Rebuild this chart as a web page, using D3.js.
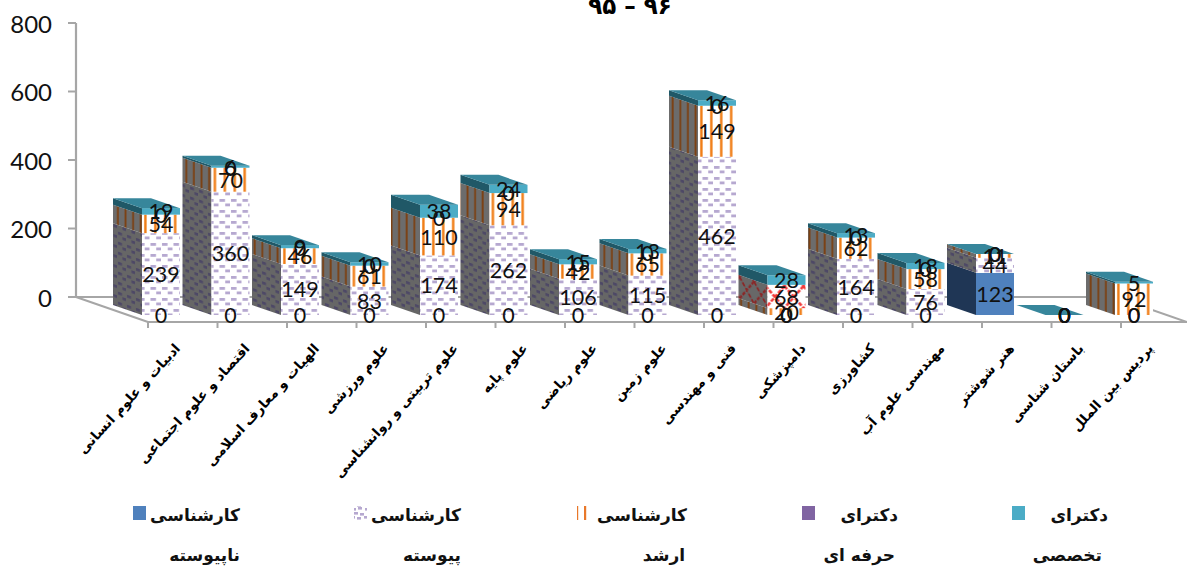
<!DOCTYPE html>
<html>
<head>
<meta charset="utf-8">
<script src="https://cdn.jsdelivr.net/npm/d3@7/dist/d3.min.js"></script>
<style>
html,body{margin:0;padding:0;background:#fff;overflow:hidden}
svg{display:block}
</style>
</head>
<body>
<svg id="chart" width="1187" height="568"></svg>
<script>
const titleText = "۹۵ – ۹۶";
const categories = ["ادبیات و علوم انسانی","اقتصاد و علوم اجتماعی","الهیات و معارف اسلامی","علوم ورزشی","علوم تربیتی و روانشناسی","علوم پایه","علوم ریاضی","علوم زمین","فنی و مهندسی","دامپزشکی","کشاورزی","مهندسی علوم آب","هنر شوشتر","باستان شناسی","پردیس بین الملل"];
const seriesKeys = ["napeyvasteh","peyvasteh","arshad","herfei","takhasosi"];
const napeyvasteh = [0,0,0,0,0,0,0,0,0,0,0,0,123,0,0];
const peyvasteh   = [239,360,149,83,174,262,106,115,462,0,164,76,44,0,0];
const arshad      = [54,70,46,61,110,94,42,65,149,20,62,58,11,0,92];
const herfei      = [0,0,0,0,0,0,0,0,0,68,0,0,0,0,null];
const takhasosi   = [19,6,9,10,38,24,15,13,16,28,13,18,0,0,5];
const yTicks = [0,200,400,600,800];
const legendLine1 = ["کارشناسی","کارشناسی","کارشناسی","دکترای","دکترای"];
const legendLine2 = ["ناپیوسته","پیوسته","ارشد","حرفه ای","تخصصی"];

const svg = d3.select("#chart");
const FRONT = {blue:"#4f81bd", teal:"#4bacc6", purple:"#8064a2"};
const defs = svg.append("defs");

function pat(id, w, h, bg, draw, tf){
  const p = defs.append("pattern").attr("id",id).attr("patternUnits","userSpaceOnUse")
    .attr("width",w).attr("height",h);
  if(tf) p.attr("patternTransform",tf);
  p.append("rect").attr("width",w).attr("height",h).attr("fill",bg);
  draw(p);
}
function bricks(p,c,rw,rh,w,h){
  [[1,1],[w/2+1,h/2]].forEach(([x,y])=>{
    p.append("rect").attr("x",x).attr("y",y).attr("width",rw).attr("height",rh).attr("fill",c);
  });
}
const skew = "skewY(19)";
pat("dotsFront",11.5,11,"#fff",p=>bricks(p,"#b6a8d0",5.5,2.8,11.5,11));
pat("dotsSide",9,10,"#666",p=>bricks(p,"#4d4866",4,2.8,9,10),skew);
pat("stripeFront",69.5/7,10,"#fff",p=>p.append("rect").attr("x",5.2).attr("width",2.4).attr("height",10).attr("fill","#f07c14"));
pat("stripeSide",7.6,10,"#6c6c6c",p=>p.append("rect").attr("x",3).attr("width",1.8).attr("height",10).attr("fill","#7c3f10"),skew);
function cross(p,c,w,h,sw){
  p.append("path").attr("d",`M0,0L${w},${h}M${w},0L0,${h}`).attr("stroke",c).attr("stroke-width",sw).attr("stroke-dasharray","4 1.5").attr("fill","none");
}
pat("crossFront",19,22,"#fff",p=>cross(p,"#f23b3b",19,22,2.6),"translate(5.5,0)");
pat("crossSide",14.5,22,"#686868",p=>cross(p,"#8a2626",14.5,22,2),skew);
pat("legDots",13,13,"#fff",p=>{[[1,1],[7,0],[3,5],[9,6],[0,9],[6,10]].forEach(([x,y])=>p.append("rect").attr("x",x).attr("y",y).attr("width",4).attr("height",2.6).attr("fill","#b6a8d0"));});
pat("legStripe",8,13,"#fff",p=>p.append("rect").attr("x",0).attr("width",2.2).attr("height",13).attr("fill","#e9782a"));

const seriesStyle = {
  napeyvasteh:{front:FRONT.blue, side:"#1f3655"},
  peyvasteh:{front:"url(#dotsFront)", side:"url(#dotsSide)"},
  arshad:{front:"url(#stripeFront)", side:"url(#stripeSide)"},
  herfei:{front:"url(#crossFront)", side:"url(#crossSide)"},
  takhasosi:{front:FRONT.teal, side:"#205867", top:"#37869b"}
};

// scales
const step = 69.5, barW = 38, left = 142;
const x = d3.scaleBand().domain(categories)
  .range([left-(step-barW)/2, left-(step-barW)/2+step*categories.length])
  .paddingInner((step-barW)/step).paddingOuter((step-barW)/step/2);
const baseY = 315;
const y = d3.scaleLinear().domain([0,800]).range([baseY, baseY-274]);
const depthX = -29, depthY = -10;

// axis geometry
const axisX = 76, backY = 297, floorY = 322, frontStart = 148;
const yWall = d3.scaleLinear().domain([0,800]).range([backY, backY-274]);
const axisG = svg.append("g");
const AX = "#a6a6a6";
const line = (x1,y1,x2,y2,w)=>axisG.append("line").attr("x1",x1).attr("y1",y1).attr("x2",x2).attr("y2",y2).attr("stroke",AX).attr("stroke-width",w||2);
line(axisX,yWall(800),axisX,backY,2.2);
line(frontStart,floorY,1187,floorY,2);
line(axisX,backY,1115,backY,2);
line(axisX,backY,frontStart,floorY,2);
line(1115,backY,1187,floorY,2);
yTicks.forEach(t=>{
  line(axisX-8,yWall(t),axisX,yWall(t),2);
  axisG.append("text").attr("x",52).attr("y",yWall(t)+9.5).attr("text-anchor","end")
    .attr("font-family","Lato").attr("font-size",24).attr("fill","#111").text(t);
});
categories.forEach(c=>{
  const tx = x(c)+6;
  line(tx,floorY,tx,floorY+6,2);
});

// stack
const rows = categories.map((c,i)=>({cat:c,napeyvasteh:napeyvasteh[i],peyvasteh:peyvasteh[i],arshad:arshad[i],herfei:herfei[i],takhasosi:takhasosi[i]}));
const stacked = d3.stack().keys(seriesKeys).value((r,k)=>r[k]||0)(rows);

const bars = svg.append("g");
rows.forEach((r,i)=>{
  const g = bars.append("g");
  const bx = x(r.cat), bw = x.bandwidth();
  stacked.forEach(s=>{
    const d = s[i], st = seriesStyle[s.key];
    const y0 = y(d[0]), y1 = y(d[1]);
    if(d[1]-d[0] <= 0) return;
    g.append("path").attr("fill",st.side)
      .attr("d",`M${bx},${y0}L${bx+depthX},${y0+depthY}L${bx+depthX},${y1+depthY}L${bx},${y1}Z`);
    g.append("rect").attr("x",bx).attr("y",y1).attr("width",bw).attr("height",y0-y1).attr("fill",st.front);
  });
  const total = d3.sum(seriesKeys,k=>r[k]||0);
  const ty = y(total);
  g.append("path").attr("fill",seriesStyle.takhasosi.top)
    .attr("d",`M${bx},${ty}L${bx+depthX},${ty+depthY}L${bx+depthX+bw},${ty+depthY}L${bx+bw},${ty}Z`);
});

// data labels
const labels = svg.append("g").attr("font-family","Lato").attr("font-size",21.5).attr("fill","#111").attr("text-anchor","middle");
stacked.forEach(s=>{
  s.forEach((d,i)=>{
    if(rows[i][s.key]===null) return;
    const cx = x(rows[i].cat)+x.bandwidth()/2;
    labels.append("text").attr("x",cx).attr("y",y((d[0]+d[1])/2)+8).text(d[1]-d[0]);
  });
});

// category labels
svg.append("g").selectAll("text").data(categories).join("text")
  .attr("transform",c=>`translate(${x(c)+x.bandwidth()+1},349) rotate(-47.5)`)
  .attr("text-anchor","end")
  .attr("font-family","DejaVu Sans").attr("font-weight","bold").attr("font-size",13.5)
  .attr("fill","#000").text(c=>c);

// legend
const legX = [133,354,577,802,1012];
const legEnd1 = [240,461,687,898,1108];
const legEnd2 = [240,461,685,895,1102];
const legFill = [FRONT.blue,"url(#legDots)",null,FRONT.purple,FRONT.teal];
const leg = svg.append("g").attr("font-family","DejaVu Sans").attr("font-weight","bold").attr("font-size",17).attr("fill","#111").attr("text-anchor","end");
seriesKeys.forEach((k,i)=>{
  if(legFill[i]) leg.append("rect").attr("x",legX[i]).attr("y",506).attr("width",13).attr("height",14).attr("fill",legFill[i]);
  else leg.append("rect").attr("x",legX[i]).attr("y",506).attr("width",11).attr("height",14).attr("fill","url(#legStripe)");
  leg.append("text").attr("x",legEnd1[i]).attr("y",521).text(legendLine1[i]);
  leg.append("text").attr("x",legEnd2[i]).attr("y",561).text(legendLine2[i]);
});

// title
svg.append("text").attr("x",630).attr("y",14).attr("text-anchor","middle")
  .attr("direction","ltr").attr("font-family","DejaVu Sans").attr("font-weight","bold").attr("font-size",23)
  .attr("fill","#000").text(titleText);
</script>
</body>
</html>
